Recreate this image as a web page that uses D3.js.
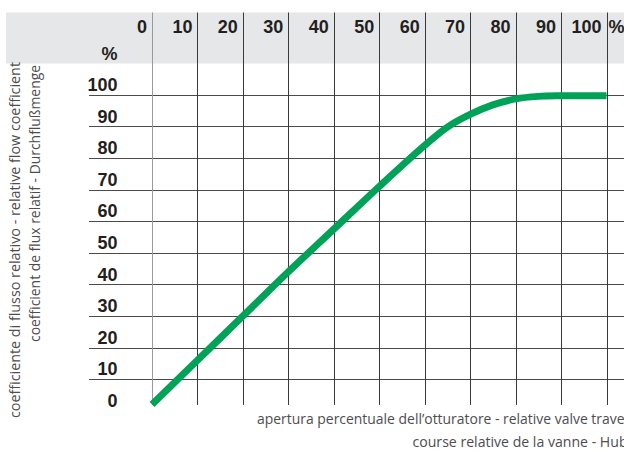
<!DOCTYPE html>
<html>
<head>
<meta charset="utf-8">
<script src="https://cdn.jsdelivr.net/npm/d3@7"></script>
<style>
  html, body { margin: 0; padding: 0; background: #fff; overflow: hidden; }
  svg { display: block; }
</style>
</head>
<body>
<svg id="chart" width="624" height="452"></svg>
<script>
// ---- data ----
const xTicks = [0, 10, 20, 30, 40, 50, 60, 70, 80, 90, 100];
const yTicks = [0, 10, 20, 30, 40, 50, 60, 70, 80, 90, 100];
const travel = [0, 10, 20, 30, 40, 50, 60, 65, 70, 75, 80, 85, 90, 100];
const flow   = [2, 16, 30, 44, 57.5, 71, 84, 89.8, 93.8, 96.8, 98.7, 99.5, 99.7, 99.7];
const yTitle1 = "coefficiente di flusso relativo - relative flow coefficient";
const yTitle2 = "coefficient de flux relatif - Durchflußmenge";
const xTitle1 = "apertura percentuale dell\u2019otturatore - relative valve travel";
const xTitle2 = "course relative de la vanne - Hub";
const unit = "%";

// ---- layout ----
const svg = d3.select("#chart");
const x = d3.scaleLinear().domain([0, 100]).range([152, 606.5]);
const y = d3.scaleLinear().domain([0, 100]).range([410.9, 94.8]);
const numFont = "'Liberation Sans', Arial, sans-serif";
const txtFont = "'Open Sans', 'Noto Sans', sans-serif";

// header band
svg.append("rect").attr("x", 6).attr("y", 12.5).attr("width", 618).attr("height", 51)
  .attr("fill", "#e6e7e9");

// horizontal grid
svg.append("g").selectAll("line").data(yTicks.filter(d => d > 0)).join("line")
  .attr("x1", 89).attr("x2", 624)
  .attr("y1", d => Math.round(y(d)) + 0.5).attr("y2", d => Math.round(y(d)) + 0.5)
  .attr("stroke", "#4a4a4a").attr("stroke-width", 1);

// vertical grid
svg.append("g").selectAll("line").data(xTicks).join("line")
  .attr("x1", d => Math.round(x(d)) + 0.5).attr("x2", d => Math.round(x(d)) + 0.5)
  .attr("y1", 12.5).attr("y2", 405)
  .attr("stroke", d => d === 0 ? "#9a9a9a" : "#3a3a3a").attr("stroke-width", 1);

// header tick labels
svg.append("g").selectAll("text").data(xTicks).join("text")
  .attr("x", d => x(d) - 5).attr("y", 33)
  .attr("text-anchor", "end")
  .attr("font-family", numFont).attr("font-weight", "bold").attr("font-size", 18)
  .attr("fill", "#231f20")
  .text(d => d);
svg.append("text").attr("x", 608.5).attr("y", 33)
  .attr("font-family", numFont).attr("font-weight", "bold").attr("font-size", 18)
  .attr("fill", "#231f20").text(unit);
svg.append("text").attr("x", 117.5).attr("y", 59.5).attr("text-anchor", "end")
  .attr("font-family", numFont).attr("font-weight", "bold").attr("font-size", 18)
  .attr("fill", "#231f20").text(unit);

// y tick labels
svg.append("g").selectAll("text").data(yTicks).join("text")
  .attr("x", 117.5).attr("y", d => y(d) - 3.8)
  .attr("text-anchor", "end")
  .attr("font-family", numFont).attr("font-weight", "bold").attr("font-size", 18)
  .attr("fill", "#231f20")
  .text(d => d);

// curve
const line = d3.line()
  .x((d, i) => x(travel[i]))
  .y(d => y(d))
  .curve(d3.curveCatmullRom.alpha(0.5));
svg.append("path").attr("d", line(flow))
  .attr("fill", "none").attr("stroke", "#00a258").attr("stroke-width", 7)
  .attr("stroke-linecap", "butt").attr("stroke-linejoin", "round");

// axis titles
function title(txt, tx, ty, len, rot) {
  const t = svg.append("text")
    .attr("font-family", txtFont).attr("font-size", 14.5).attr("fill", "#4d4d4f")
    .attr("textLength", len).attr("lengthAdjust", "spacingAndGlyphs")
    .text(txt);
  if (rot) t.attr("transform", `translate(${tx},${ty}) rotate(-90)`).attr("x", 0).attr("y", 0);
  else t.attr("x", tx).attr("y", ty);
}
title(yTitle1, 20, 418, 356, true);
title(yTitle2, 39.5, 342, 277, true);
title(xTitle1, 257, 423.5, 371, false);
title(xTitle2, 412.5, 446.5, 215, false);
</script>
</body>
</html>
